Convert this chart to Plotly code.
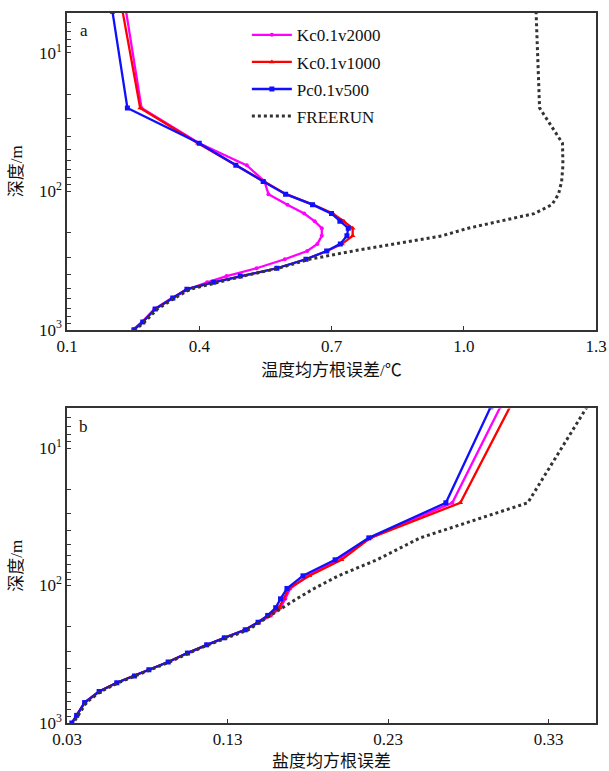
import plotly.graph_objects as go

# ---------------- data ----------------
depth = [5, 25, 45, 65, 85, 105, 125, 145, 165, 185, 210, 240, 270, 310, 360, 410, 455, 510, 590, 710, 880, 1000]

# temperature RMSE (panel a)
t_kc2000 = [0.234, 0.269, 0.400, 0.508, 0.548, 0.557, 0.600, 0.638, 0.662, 0.678, 0.678, 0.668, 0.645, 0.594, 0.530, 0.462, 0.418, 0.375, 0.338, 0.298, 0.270, 0.250]
t_kc1000 = [0.226, 0.266, 0.397, 0.485, 0.546, 0.597, 0.658, 0.703, 0.728, 0.748, 0.748, 0.724, 0.690, 0.642, 0.576, 0.493, 0.432, 0.372, 0.340, 0.300, 0.272, 0.252]
t_pc500 = [0.203, 0.237, 0.400, 0.483, 0.545, 0.596, 0.657, 0.700, 0.719, 0.738, 0.735, 0.720, 0.689, 0.642, 0.576, 0.493, 0.432, 0.372, 0.340, 0.300, 0.272, 0.252]
t_free = [1.164, 1.172, 1.224, 1.225, 1.222, 1.215, 1.200, 1.160, 1.080, 1.010, 0.950, 0.840, 0.750, 0.650, 0.580, 0.500, 0.440, 0.380, 0.345, 0.305, 0.276, 0.255]

# salinity RMSE (panel b)
s_kc2000 = [0.300, 0.270, 0.219, 0.199, 0.180, 0.169, 0.166, 0.163, 0.157, 0.149, 0.141, 0.128, 0.117, 0.105, 0.093, 0.081, 0.072, 0.061, 0.050, 0.041, 0.036, 0.033]
s_kc1000 = [0.306, 0.275, 0.219, 0.201, 0.181, 0.168, 0.165, 0.162, 0.156, 0.149, 0.141, 0.128, 0.117, 0.105, 0.093, 0.081, 0.072, 0.061, 0.050, 0.041, 0.036, 0.033]
s_pc500 = [0.294, 0.266, 0.218, 0.197, 0.177, 0.167, 0.163, 0.160, 0.155, 0.149, 0.141, 0.128, 0.117, 0.105, 0.093, 0.081, 0.072, 0.061, 0.050, 0.041, 0.036, 0.033]
s_free = [0.354, 0.317, 0.250, 0.223, 0.199, 0.184, 0.173, 0.164, 0.157, 0.150, 0.143, 0.129, 0.118, 0.106, 0.094, 0.082, 0.073, 0.062, 0.051, 0.042, 0.037, 0.034]

series_names = ["Kc0.1v2000", "Kc0.1v1000", "Pc0.1v500", "FREERUN"]

t_ticks = [0.1, 0.4, 0.7, 1.0, 1.3]
t_ticktext = ["0.1", "0.4", "0.7", "1.0", "1.3"]
s_ticks = [0.03, 0.13, 0.23, 0.33]
s_ticktext = ["0.03", "0.13", "0.23", "0.33"]
y_ticks = [10, 100, 1000]
y_ticktext = ["10<sup>1</sup>", "10<sup>2</sup>", "10<sup>3</sup>"]
y_minor = [6, 7, 8, 9, 20, 30, 40, 50, 60, 70, 80, 90, 200, 300, 400, 500, 600, 700, 800, 900]

# ---------------- styles ----------------
styles = [
    dict(color="#ff00ff", symbol="circle", size=4),
    dict(color="#ff0000", symbol="triangle-up", size=5),
    dict(color="#1010ff", symbol="square", size=5),
]
SERIF = "Liberation Serif, Times New Roman, serif"
CJK = "Liberation Serif, Noto Sans CJK SC, sans-serif"

fig = go.Figure()

panels = [
    ("x", "y", [t_kc2000, t_kc1000, t_pc500], t_free, True),
    ("x2", "y2", [s_kc2000, s_kc1000, s_pc500], s_free, False),
]
for xa, ya, vals, free, showleg in panels:
    for name, v, st in zip(series_names[:3], vals, styles):
        fig.add_trace(go.Scatter(
            x=v, y=depth, xaxis=xa, yaxis=ya, name=name, mode="lines+markers",
            legendgroup=name,
            line=dict(color=st["color"], width=2.3),
            marker=dict(color=st["color"], symbol=st["symbol"], size=st["size"]),
            showlegend=showleg, cliponaxis=True))
    fig.add_trace(go.Scatter(
        x=free, y=depth, xaxis=xa, yaxis=ya, name=series_names[3], mode="lines",
        legendgroup=series_names[3],
        line=dict(color="#333333", width=3, dash="dot"),
        showlegend=showleg))

axis_common = dict(showline=True, linecolor="#333333", linewidth=1.5, mirror=True,
                   ticks="inside", ticklen=4, tickcolor="#333333", showgrid=False,
                   zeroline=False, automargin=False,
                   tickfont=dict(family=SERIF, size=17, color="#111"))
yrange = [3, 0.712]

fig.update_layout(
    width=609, height=771,
    margin=dict(l=67, r=13, t=13, b=48, autoexpand=False),
    paper_bgcolor="white", plot_bgcolor="white",
    font=dict(family=SERIF, size=17, color="#111"),
    xaxis=dict(domain=[0, 1], anchor="y", range=[0.1, 1.3], tickvals=t_ticks, ticktext=t_ticktext,
               title=dict(text="温度均方根误差/℃", font=dict(family=CJK, size=17), standoff=9), **axis_common),
    yaxis=dict(domain=[0.554, 1.0], anchor="x", type="log", range=yrange, tickvals=y_ticks, ticktext=y_ticktext,
               minor=dict(tickvals=y_minor, ticks="inside", ticklen=4, tickcolor="#333333", showgrid=False),
               title=dict(text="深度/m", font=dict(family=CJK, size=17), standoff=12), **axis_common),
    xaxis2=dict(domain=[0, 1], anchor="y2", range=[0.03, 0.3595], tickvals=s_ticks, ticktext=s_ticktext,
                title=dict(text="盐度均方根误差", font=dict(family=CJK, size=17), standoff=9), **axis_common),
    yaxis2=dict(domain=[0, 0.443], anchor="x2", type="log", range=yrange, tickvals=y_ticks, ticktext=y_ticktext,
                minor=dict(tickvals=y_minor, ticks="inside", ticklen=4, tickcolor="#333333", showgrid=False),
                title=dict(text="深度/m", font=dict(family=CJK, size=17), standoff=12), **axis_common),
    legend=dict(x=0.34, y=0.994, xanchor="left", yanchor="top", bgcolor="rgba(0,0,0,0)",
                font=dict(family=SERIF, size=17), tracegroupgap=2, itemwidth=40),
    showlegend=True,
)

fig.add_annotation(text="a", xref="paper", yref="paper", x=0.032, y=0.976, xanchor="center", yanchor="middle",
                   showarrow=False, font=dict(family=SERIF, size=17, color="#111"))
fig.add_annotation(text="b", xref="paper", yref="paper", x=0.032, y=0.417, xanchor="center", yanchor="middle",
                   showarrow=False, font=dict(family=SERIF, size=17, color="#111"))

fig.write_html("out.html")
